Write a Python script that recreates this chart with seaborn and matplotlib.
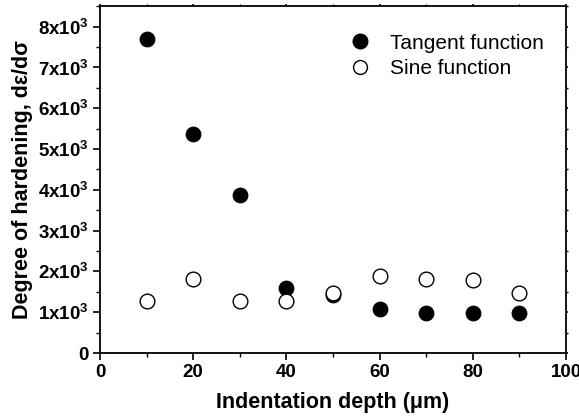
import matplotlib
matplotlib.use("Agg")
import matplotlib.pyplot as plt
import seaborn as sns
import pandas as pd
from matplotlib.ticker import MultipleLocator, FuncFormatter
from matplotlib.lines import Line2D

depth = [10, 20, 30, 40, 50, 60, 70, 80, 90]
tangent = [7700, 5370, 3880, 1600, 1420, 1070, 990, 990, 990]
sine = [1280, 1810, 1280, 1280, 1460, 1890, 1820, 1780, 1460]
series_names = ["Tangent function", "Sine function"]
y_ticks = [0, 1000, 2000, 3000, 4000, 5000, 6000, 7000, 8000]
x_ticks = [0, 20, 40, 60, 80, 100]

sns.set_style("ticks")
plt.rcParams['font.family'] = ['Liberation Sans', 'DejaVu Sans']
plt.rcParams['mathtext.fontset'] = 'custom'
plt.rcParams['mathtext.rm'] = 'Liberation Sans:bold'
plt.rcParams['mathtext.it'] = 'Liberation Sans:bold'
plt.rcParams['mathtext.bf'] = 'Liberation Sans:bold'
plt.rcParams['mathtext.default'] = 'regular'
for k in ['text.color', 'axes.labelcolor', 'xtick.color', 'ytick.color', 'axes.edgecolor']:
    plt.rcParams[k] = 'black'

fig = plt.figure(figsize=(5.79, 4.18), dpi=100)
ax = fig.add_axes([100/579, 65/418, 466/579, 347.5/418])

df_t = pd.DataFrame({"depth": depth, "value": tangent})
df_s = pd.DataFrame({"depth": depth, "value": sine})
sns.scatterplot(data=df_t, x="depth", y="value", ax=ax, s=112, color="black",
                edgecolor="black", linewidth=0.8, zorder=3)
sns.scatterplot(data=df_s, x="depth", y="value", ax=ax, s=112, color="white",
                edgecolor="black", linewidth=1.0, zorder=4)

ax.set_xlim(0, 100)
ax.set_ylim(0, 8520)
ax.set_xticks(x_ticks)
ax.set_yticks(y_ticks)
ax.xaxis.set_minor_locator(MultipleLocator(10))
ax.yaxis.set_minor_locator(MultipleLocator(500))

def yfmt(v, pos):
    if v == 0:
        return "0"
    return r"%dx10$^3$" % int(round(v / 1000))
ax.yaxis.set_major_formatter(FuncFormatter(yfmt))

for sp in ax.spines.values():
    sp.set_linewidth(1.3)
    sp.set_color("black")

ax.tick_params(axis="both", which="major", direction="out", length=5, width=1.2,
               labelsize=13.5, pad=3, colors="black")
ax.tick_params(axis="both", which="minor", direction="out", length=3, width=1.0)
ax.tick_params(axis="x", which="both", top=True, labeltop=False)
ax.tick_params(axis="y", which="both", right=True, labelright=False)
for t in ax.xaxis.get_major_ticks() + ax.xaxis.get_minor_ticks():
    t.tick2line.set_markersize(1.5)
for t in ax.yaxis.get_major_ticks() + ax.yaxis.get_minor_ticks():
    t.tick2line.set_markersize(1.5)
for lab in ax.get_xticklabels() + ax.get_yticklabels():
    lab.set_fontweight("bold")

ax.set_xlabel("Indentation depth (\u03bcm)", fontsize=15.5, fontweight="bold", labelpad=8)
ax.set_ylabel("Degree of hardening, d\u03b5/d\u03c3", fontsize=15.5, fontweight="bold", labelpad=4)

handles = [
    Line2D([], [], marker="o", linestyle="none", markerfacecolor="black",
           markeredgecolor="black", markersize=10.5),
    Line2D([], [], marker="o", linestyle="none", markerfacecolor="white",
           markeredgecolor="black", markersize=10, markeredgewidth=1.0),
]
leg = ax.legend(handles, series_names, loc="upper left", bbox_to_anchor=(0.487, 0.955),
                frameon=False, fontsize=15, handletextpad=0.45, labelspacing=0.3,
                borderaxespad=0.2)
for t in leg.get_texts():
    t.set_color("black")

fig.savefig("out.png", dpi=100)
